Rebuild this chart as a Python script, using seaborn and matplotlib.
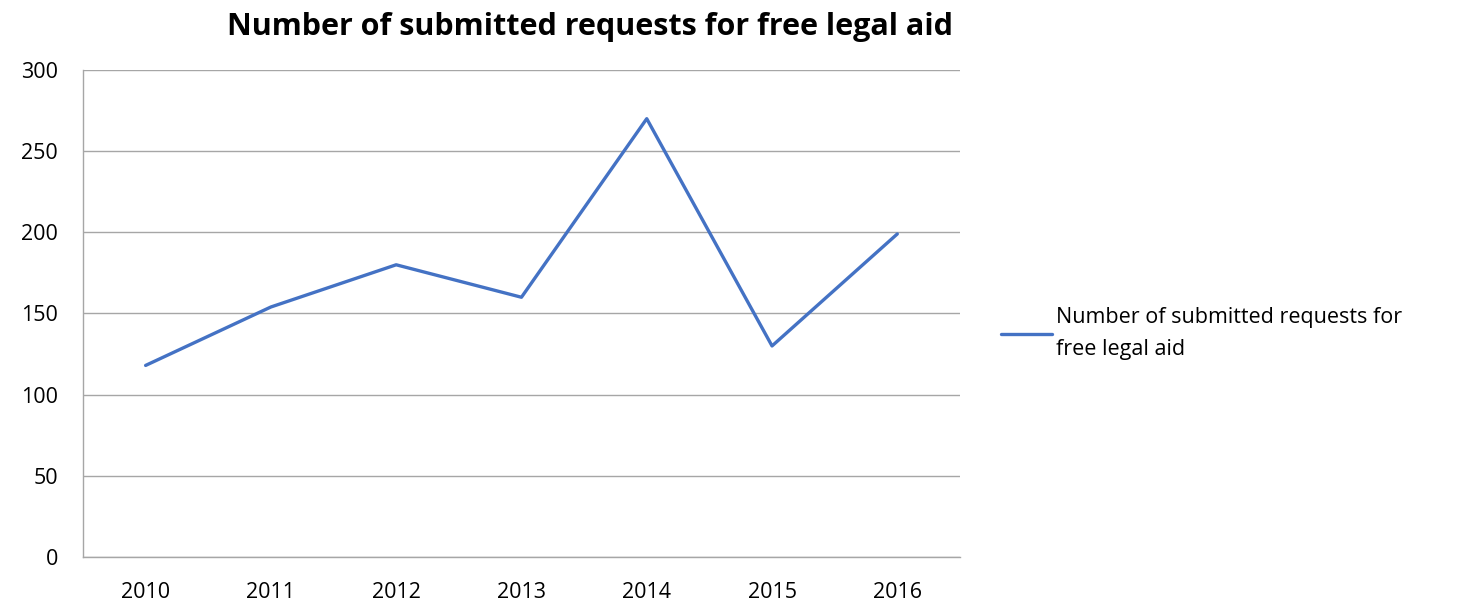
import matplotlib
matplotlib.use("Agg")
import matplotlib.pyplot as plt
import seaborn as sns
import pandas as pd

years = ["2010", "2011", "2012", "2013", "2014", "2015", "2016"]
requests = [118, 154, 180, 160, 270, 130, 199]
series_name = "Number of submitted requests for free legal aid"
y_ticks = [0, 50, 100, 150, 200, 250, 300]

sns.set_theme(style="white")
plt.rcParams['font.family'] = ['Open Sans', 'DejaVu Sans']
plt.rcParams['text.color'] = 'black'

df = pd.DataFrame({"year": years, "value": requests})

fig = plt.figure(figsize=(14.58, 6.06), dpi=100)
ax = fig.add_axes([0.0569, 0.0809, 0.6015, 0.8036])

sns.lineplot(data=df, x="year", y="value", ax=ax, color="#4472C4",
             linewidth=2.4, sort=False,
             label="Number of submitted requests for\nfree legal aid")

ax.set_xlim(-0.5, 6.5)
ax.set_ylim(0, 300)
ax.set_yticks(y_ticks)
ax.yaxis.grid(True, color="#A6A6A6", linewidth=1)
ax.xaxis.grid(False)
ax.set_xlabel("")
ax.set_ylabel("")
for s in ["top", "right"]:
    ax.spines[s].set_visible(False)
for s in ["left", "bottom"]:
    ax.spines[s].set_color("#A6A6A6")
    ax.spines[s].set_linewidth(1)
ax.tick_params(axis="both", labelsize=15.5, colors="#000000", length=0)
ax.tick_params(axis="y", pad=18)
ax.tick_params(axis="x", pad=18)

ax.get_legend().remove()
handles, labels = ax.get_legend_handles_labels()
leg = fig.legend(handles, labels, loc="center left", bbox_to_anchor=(0.673, 0.45),
                 frameon=False, fontsize=15.5, handlelength=2.4, handletextpad=0.15)
for t in leg.get_texts():
    t.set_linespacing(1.65)
    t.set_color("black")

fig.suptitle(series_name, x=0.405, y=0.98, fontsize=22, fontweight="bold",
             color="black")

fig.savefig("out.png", dpi=100)
